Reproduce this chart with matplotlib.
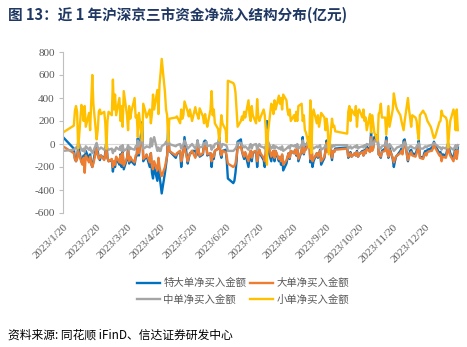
import matplotlib
matplotlib.use('Agg')
import matplotlib.pyplot as plt
import pandas as pd

plt.rcParams['font.family'] = ['Noto Sans CJK SC', 'DejaVu Sans']
plt.rcParams['axes.unicode_minus'] = False

# trading days 2023/1/20 - 2024/1/19 (weekdays minus exchange holidays)
holidays = ['2023-01-23', '2023-01-24', '2023-01-25', '2023-01-26', '2023-01-27',
            '2023-04-05', '2023-05-01', '2023-05-02', '2023-05-03',
            '2023-06-22', '2023-06-23', '2023-09-29',
            '2023-10-02', '2023-10-03', '2023-10-04', '2023-10-05', '2023-10-06',
            '2024-01-01']
dates = pd.bdate_range('2023-01-20', '2024-01-19')
dates = dates[~dates.isin(pd.to_datetime(holidays))]

# 特大单净买入金额 (亿元)
super_large = [
    60, -40, -130,
    -150, -120, -20, -150, -170, -100, -150, -60, -130, -90, -170, -200, -150, 0, -60, -120, -140, -100, -130, -80,
    30, -120, -150, -140, -240, -170, -200, -120, -180, -90, -200, -60, -220, -130, -40, -170, -120, -150, -180, -120, -100, 50, -100,
    190, -150, -120, -100, -200, -80, -250, -300, -200, -320, -150, -280, -350, -430, -250, -180, -100, 150, -60,
    -120, -90, -60, -200, -110, -60, 60, -170, -120, -80, -80, -60, -60, -100, 30, -60, -110, -90, 20, 30,
    20, -100, -80, -200, -100, -130, -60, -40, 60, -80, -120, -60, -50, -150, -300, -340, -320, -250, -150, 20,
    40, -60, -100, -130, -80, -200, -100, -60, -150, -80, -60, -200, -100, -50, -90, -140, -200, -80, 200, -50, -150,
    -80, -60, -150, -60, -150, -120, -180, -100, -230, -170, -120, -80, -130, -60, -80, -50, -100, -40, -150, -60, 60, -90, -30,
    -40, 60, -160, 40, -200, -150, -80, -120, -90, -50, -180, -120, -60, 30, -60, 40, -140, -60, -70, -40,
    -30, -120, -90, -70, -110, -80, -100, -60, -110, -90, -60, -100, -50, -80, -20, -60, 100,
    -50, -30, 60, 80, -90, -100, -120, -60, -40, 60, -60, -120, -30, -130, -200, -150, -110, -100, -60, -40, -80, 30,
    40, -150, -100, -60, -50, -80, -90, -60, -20, 30, -110, -120, -80, -60, -90, -50, -40, -30, -20, 20, -10,
    -80, -70, -130, -90, -100, -60, 0, -40, -80, -130, -70, -20, -100, -30,
]

# 大单净买入金额
large = [
    -20, -80, -130,
    -150, -130, -60, -160, -180, -120, -250, -100, -160, -110, -170, -200, -170, -40, -90, -130, -120, -100, -140, -90,
    -40, -120, -150, -130, -200, -150, -180, -110, -160, -100, -170, -80, -190, -120, -60, -150, -110, -130, -160, -100, -90, 0, -80,
    80, -130, -110, -90, -160, -80, -190, -220, -150, -230, -120, -200, -250, -280, -200, -150, -100, 60, -60,
    -100, -80, -60, -150, -100, -60, -30, -150, -110, -90, -70, -60, -120, -90, 0, -60, -100, -80, -20, -40,
    -10, -90, -80, -150, -90, -110, -60, -40, 30, -70, -100, -60, -70, -110, -170, -200, -190, -170, -110, -40,
    -20, -60, -90, -110, -70, -150, -90, -60, -120, -70, -60, -150, -90, -50, -80, -120, -150, -70, 120, 10, -110,
    -80, -60, -120, -60, -130, -110, -150, -90, -180, -140, -110, -80, -120, -60, -80, -50, -90, -40, -130, -60, 30, -80, -40,
    -50, 30, -130, 20, -150, -130, -80, -110, -90, -60, -150, -110, -60, 10, -70, 20, -120, -60, -70, -50,
    -40, -110, -90, -80, -110, -80, -100, -70, -110, -90, -70, -100, -60, -80, -40, -70, 60,
    -60, -40, 30, 50, -90, -100, -110, -70, -60, 30, -70, -110, -50, -120, -160, -130, -110, -100, -80, -60, -90, 0,
    20, -140, -110, -80, -70, -100, -110, -80, -50, 0, -120, -130, -100, -80, -100, -70, -60, -60, -40, 0, -30,
    -100, -90, -150, -110, -120, -80, -20, -70, -100, -150, -100, -60, -130, -60,
]

# 中单净买入金额
medium = [
    -60, -50, -40,
    -30, -40, 20, -50, -60, -40, -70, -20, -50, -30, -60, -80, -60, 10, -30, -50, -40, -30, -50, -30,
    10, -40, -50, -40, -80, -50, -60, -30, -50, -20, -60, -10, -60, -40, -10, -50, -30, -40, -50, -20, -20, 30, -20,
    60, -40, -30, -20, -30, 50, -20, 30, 60, -60, -30, -60, -60, -20, 0, 20, -10, 50, 0,
    -20, -10, 0, -40, -20, -10, 30, -40, -30, -20, -10, 0, -40, -20, 30, -10, -30, -20, 10, 0,
    20, -20, -10, -50, -20, -30, 0, 10, 40, -10, -30, 0, -10, -20, -60, -60, -50, -40, -20, 10,
    10, -10, -20, -30, -20, -50, -20, 0, -40, -10, 0, -50, -20, 0, -20, -30, -40, -20, 50, 20, -40,
    -30, -10, -40, -20, -40, -30, -50, -20, -60, -40, -30, -20, -40, -10, -20, -10, -30, 0, -40, -10, 30, -20, 0,
    -10, 30, -40, 20, -30, -40, -20, -30, -20, -10, -50, -30, -10, -30, -20, 20, -30, -10, -20, -10,
    -10, -40, -30, -20, -40, -20, -30, -10, -40, -30, -20, -30, -10, -20, 0, -10, 40,
    -10, 0, 20, 30, -30, -30, -40, -20, -10, 20, -20, -40, 0, -40, -60, -50, -40, -30, -20, -10, -30, 10,
    10, -50, -30, -20, -20, -30, -40, -20, -10, 10, -40, -40, -30, -20, -30, -20, -10, -10, 0, 10, 0,
    -30, -30, -50, -30, -40, -20, 10, -20, -30, -50, -30, -10, -40, -10,
]

# 小单净买入金额
small = [
    100, 160, 290,
    330, 280, -40, 340, 310, 200, 330, 150, 270, 120, 350, 600, 350, 40, 120, 280, 300, 260, 280, 180,
    -40, 200, 280, 250, 560, 300, 430, 250, 400, 200, 330, 150, 460, 250, 120, 330, 220, 280, 400, 230, 250, 60, 270,
    30, 350, 280, 230, 300, 180, 260, 430, 300, 470, 260, 520, 620, 740, 450, 300, 250, 20, 220,
    230, 240, 180, 300, 220, 250, 370, 280, 240, 300, 250, 200, 320, 270, 250, 220, 310, 240, 180, 260,
    200, 150, 300, 460, 250, 300, 180, 130, 30, 120, 250, 180, 120, 15, 550, 530, 510, 450, 300, 150,
    200, 240, 210, 280, 230, 380, 250, 200, 330, 250, 180, 390, 240, 200, 230, 300, 250, 120, -180, 100, 350,
    330, 260, 380, 300, 420, 350, 400, 300, 430, 380, 290, 250, 300, 200, 250, 200, 280, 200, 330, 350, 200, 250, 120,
    100, -30, 380, -80, 250, 300, 180, 250, 150, 200, 270, 230, 120, 220, 150, -90, 220, 150, 160, 110,
    90, 280, 330, 200, 300, 250, 330, 150, 280, 300, 230, 300, 200, 230, 120, 260, 100,
    250, 180, 100, 30, 260, 280, 350, 230, 230, 80, 200, 330, 150, 300, 440, 380, 330, 300, 250, 200, 160, 120,
    200, 400, 300, 230, 150, 250, 230, 200, 100, 40, 250, 290, 270, 260, 230, 200, 150, 120, 80, 50, 60,
    190, 200, 290, 250, 230, 200, -30, 100, 200, 300, 250, 120, 300, 120,
]

tick_dates = pd.date_range('2023-01-20', '2023-12-20', freq=pd.DateOffset(months=1))
tick_labels = [f'{d.year}/{d.month}/{d.day}' for d in tick_dates]

fig = plt.figure(figsize=(4.67, 3.47), dpi=100)
ax = fig.add_axes([63 / 467, 1 - 213 / 347, (460 - 63) / 467, (213 - 52) / 347])

ax.axhline(0, color='#d9d9d9', lw=0.8, zorder=0)
l1, = ax.plot(dates, super_large, color='#0070c0', lw=1.7)
l2, = ax.plot(dates, large, color='#ed7d31', lw=1.7)
l3, = ax.plot(dates, medium, color='#a5a5a5', lw=1.7)
l4, = ax.plot(dates, small, color='#ffc000', lw=1.7)

ax.set_ylim(-600, 800)
ax.set_yticks(range(-600, 801, 200))
ax.set_xlim(pd.Timestamp('2023-01-20'), pd.Timestamp('2024-01-21'))
ax.set_xticks(tick_dates)
ax.set_xticklabels(tick_labels, rotation=45, ha='right', va='top', rotation_mode='anchor')

for s in ['top', 'right', 'bottom']:
    ax.spines[s].set_visible(False)
ax.spines['left'].set_color('#bfbfbf')
ax.tick_params(axis='y', length=3, color='#bfbfbf', pad=3, labelsize=8, labelcolor='#595959')
ax.tick_params(axis='x', length=0, pad=7, labelsize=8, labelcolor='#595959')
for lab in ax.get_xticklabels() + ax.get_yticklabels():
    lab.set_fontfamily('Liberation Serif')

fig.legend(handles=[l1, l3, l2, l4],
           labels=['特大单净买入金额', '中单净买入金额', '大单净买入金额', '小单净买入金额'],
           ncol=2, loc='center', bbox_to_anchor=(243 / 467, 1 - 291.5 / 347),
           frameon=False, fontsize=7.5, handlelength=2.2, handletextpad=0.3,
           columnspacing=0.4, labelspacing=0.6, labelcolor='#595959')

fig.text(8 / 467, 1 - 15 / 347, '图 13：近 1 年沪深京三市资金净流入结构分布(亿元)',
         fontsize=10.5, fontweight='bold', color='#203864', va='center')
fig.text(8 / 467, 1 - 335 / 347, '资料来源: 同花顺 iFinD、信达证券研发中心',
         fontsize=8.5, style='italic', color='black', va='center')

fig.savefig('out.png', dpi=100)
